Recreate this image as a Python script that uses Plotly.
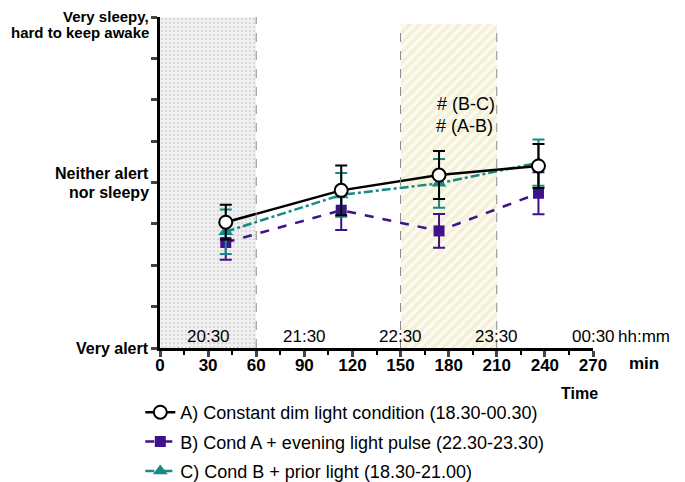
import plotly.graph_objects as go

# ---- data ----
minutes = [41, 113, 174, 236]
cond_a = [4.04, 4.81, 5.18, 5.40]
cond_a_se = [0.42, 0.60, 0.58, 0.53]
cond_b = [3.55, 4.33, 3.83, 4.74]
cond_b_se = [0.42, 0.48, 0.41, 0.51]
cond_c = [3.81, 4.70, 4.98, 5.48]
cond_c_se = [0.54, 0.53, 0.59, 0.56]

names = [
    "A) Constant dim light condition (18.30-00.30)",
    "B) Cond A + evening light pulse (22.30-23.30)",
    "C) Cond B + prior light (18.30-21.00)",
]

kss_ticks = [1, 2, 3, 4, 5, 6, 7, 8, 9]
kss_label_vals = [1, 5, 9]
kss_label_lines = [["Very alert"], ["Neither alert", "nor sleepy"], ["Very sleepy,", "hard to keep awake"]]

x_ticks = [0, 30, 60, 90, 120, 150, 180, 210, 240, 270]
x_minor = [15, 45, 75, 105, 135, 165, 195, 225, 255]
clock_minutes = [30, 90, 150, 210, 270]
clock_labels = ["20:30", "21:30", "22:30", "23:30", "00:30"]

prior_light = [0, 60]
prior_top = 9
light_pulse = [150, 210]
pulse_top = 8.83

signif_x = [191, 190]
signif_y = [6.89, 6.36]
signif_labels = ["# (B-C)", "# (A-B)"]

BLACK = "#000000"
PURPLE = "#3f118a"
TEAL = "#188a86"
FONT = "Liberation Sans, Arial, sans-serif"

fig = go.Figure()

# background periods
fig.add_trace(go.Bar(
    x=[(prior_light[0] + prior_light[1]) / 2], y=[prior_top - 1], base=[1],
    width=[prior_light[1] - prior_light[0]],
    marker=dict(color="#f1f1f1", line=dict(width=0),
                pattern=dict(shape=".", fgcolor="#bfbfbf", bgcolor="#f1f1f1", size=4, solidity=0.3)),
    showlegend=False, hoverinfo="skip"))
fig.add_trace(go.Bar(
    x=[(light_pulse[0] + light_pulse[1]) / 2], y=[pulse_top - 1], base=[1],
    width=[light_pulse[1] - light_pulse[0]],
    marker=dict(color="#ffffff", line=dict(width=0),
                pattern=dict(shape="/", fgcolor="#ebe6ba", bgcolor="#fcfbf3", size=7, solidity=0.55)),
    showlegend=False, hoverinfo="skip"))

for xv, top in [(prior_light[1], prior_top), (light_pulse[0], pulse_top), (light_pulse[1], pulse_top)]:
    fig.add_shape(type="line", xref="x", yref="y", x0=xv, x1=xv, y0=1, y1=top,
                  line=dict(color="#8a8a8a", width=1, dash="dash"), layer="above")

fig.add_trace(go.Scatter(
    x=minutes, y=cond_b, name=names[1], legendrank=2, legendgroup="b", mode="lines+markers",
    line=dict(color=PURPLE, width=2.5, dash="dash"),
    marker=dict(symbol="square", size=11, color=PURPLE),
    error_y=dict(type="data", array=cond_b_se, color=PURPLE, thickness=2, width=6)))
fig.add_trace(go.Scatter(
    x=minutes, y=cond_c, name=names[2], legendrank=3, legendgroup="c", mode="lines+markers",
    line=dict(color=TEAL, width=2.5, dash="dashdot"),
    marker=dict(symbol="triangle-up", size=13, color=TEAL),
    error_y=dict(type="data", array=cond_c_se, color=TEAL, thickness=2, width=6)))
fig.add_trace(go.Scatter(
    x=minutes, y=cond_a, name=names[0], legendrank=1, legendgroup="a", mode="lines+markers",
    line=dict(color=BLACK, width=2.5),
    marker=dict(symbol="circle", size=13, color="white", line=dict(color=BLACK, width=2)),
    error_y=dict(type="data", array=cond_a_se, color=BLACK, thickness=2, width=6)))

annotations = []
line_offsets = {1: [0], 2: [9.5, -9.5]}
top_offsets = [0.3, -15]  # top label kept inside the figure edge
for v, lines in zip(kss_label_vals, kss_label_lines):
    is_top = v == kss_label_vals[-1]
    offs = top_offsets if is_top else line_offsets[len(lines)]
    for t, shift in zip(lines, offs):
        annotations.append(dict(x=0, xref="paper", y=v, yref="y", text=t, showarrow=False,
                                xanchor="right", yanchor="middle", xshift=-9, yshift=shift,
                                font=dict(family=FONT, size=15 if is_top else 16,
                                          color="black", weight="bold")))
for m, t in zip(clock_minutes, clock_labels):
    annotations.append(dict(x=m, xref="x", y=1.29, yref="y", text=t, showarrow=False,
                            xanchor="center", yanchor="middle",
                            font=dict(family=FONT, size=17, color="black")))
annotations.append(dict(x=clock_minutes[-1], xref="x", y=1.29, yref="y", text="hh:mm", showarrow=False,
                        xanchor="left", yanchor="middle", xshift=23,
                        font=dict(family=FONT, size=17, color="black")))
for xv, yv, t in zip(signif_x, signif_y, signif_labels):
    annotations.append(dict(x=xv, xref="x", y=yv, yref="y", text=t, showarrow=False,
                            xanchor="center", yanchor="middle",
                            font=dict(family=FONT, size=18, color="black")))
annotations.append(dict(x=1.118, xref="paper", y=-0.048, yref="paper", text="min", showarrow=False,
                        xanchor="center", yanchor="middle",
                        font=dict(family=FONT, size=17, color="black", weight="bold")))
annotations.append(dict(x=0.968, xref="paper", y=-0.136, yref="paper", text="Time", showarrow=False,
                        xanchor="center", yanchor="middle",
                        font=dict(family=FONT, size=16, color="black", weight="bold")))

# page body adds an 8px offset; figure is sized/margined to compensate
fig.update_layout(
    width=677, height=474,
    margin=dict(l=152, r=92, t=9, b=134, autoexpand=False),
    paper_bgcolor="white", plot_bgcolor="white",
    barmode="overlay", bargap=0,
    font=dict(family=FONT, color="black"),
    annotations=annotations,
    legend=dict(x=-0.0455, y=-0.139, xanchor="left", yanchor="top", orientation="v",
                font=dict(family=FONT, size=18, color="black"), bgcolor="rgba(0,0,0,0)",
                tracegroupgap=3, itemwidth=30),
    xaxis=dict(range=[0, 270], tickvals=x_ticks, ticks="outside", ticklen=6, tickwidth=2.5,
               showline=True, linewidth=2.5, linecolor="black", showgrid=False, zeroline=False,
               ticklabelstandoff=-6,
               tickfont=dict(family=FONT, size=17, color="black", weight="bold"),
               minor=dict(tickvals=x_minor, ticks="outside",
                          ticklen=4, tickwidth=2, tickcolor="black")),
    yaxis=dict(range=[1, 9], tickvals=kss_ticks, showticklabels=False, ticks="outside",
               ticklen=6, tickwidth=2.5, showline=True, linewidth=2.5, linecolor="black",
               showgrid=False, zeroline=False),
)

fig.write_html("out.html")
